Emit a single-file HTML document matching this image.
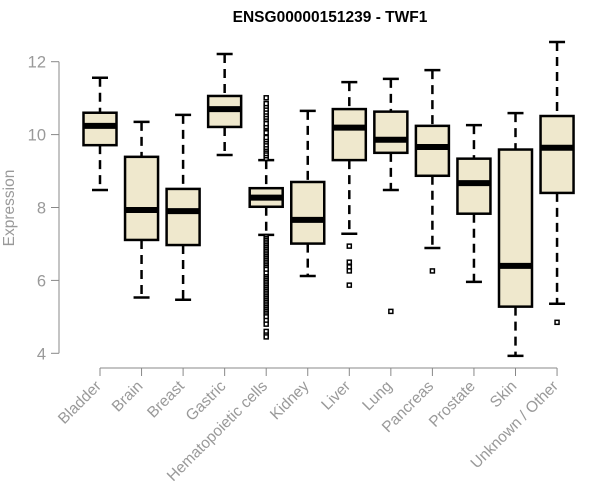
<!DOCTYPE html>
<html><head><meta charset="utf-8"><style>
html,body{margin:0;padding:0;background:#fff;}
svg{display:block;font-family:"Liberation Sans",Arial,sans-serif;}
</style></head><body>
<svg id="chart" width="600" height="500" viewBox="0 0 600 500" xmlns="http://www.w3.org/2000/svg">
<text x="330" y="22" text-anchor="middle" font-size="15.5" font-weight="bold" fill="#000">ENSG00000151239 - TWF1</text>
<text transform="translate(14,208) rotate(-90)" text-anchor="middle" font-size="15.5" fill="#999">Expression</text>
<g id="yaxis"></g>
<g id="xaxis"></g>
<g id="boxes"></g>
</svg>
<script>
const categories = ["Bladder","Brain","Breast","Gastric","Hematopoietic cells","Kidney","Liver","Lung","Pancreas","Prostate","Skin","Unknown / Other"];
const whiskerLow = [8.48,5.53,5.47,9.44,7.25,6.12,7.28,8.48,6.89,5.96,3.93,5.36];
const q1Values   = [9.71,7.11,6.97,10.21,8.02,7.01,9.30,9.50,8.87,7.83,5.28,8.40];
const medians    = [10.24,7.93,7.90,10.70,8.27,7.66,10.19,9.86,9.66,8.67,6.40,9.64];
const q3Values   = [10.60,9.39,8.51,11.06,8.53,8.70,10.70,10.63,10.24,9.34,9.59,10.51];
const whiskerHigh= [11.56,10.35,10.54,12.21,9.30,10.65,11.44,11.53,11.77,10.26,10.59,12.54];
const outliers = [[],[],[],[],
 [9.35,9.42,9.48,9.55,9.6,9.65,9.72,9.8,9.86,9.92,10.05,10.18,10.22,10.3,10.42,10.48,10.55,10.62,10.7,10.78,10.85,11.01,
  7.2,7.15,7.1,7.05,7.0,6.95,6.9,6.85,6.8,6.75,6.7,6.65,6.6,6.55,6.5,6.45,6.4,6.35,6.3,6.2,6.1,6.05,6.0,5.95,5.9,5.85,5.8,5.75,5.7,5.65,5.6,5.55,5.5,5.45,5.4,5.35,5.3,5.25,5.2,5.15,5.1,5.05,5.0,4.9,4.8,4.6,4.5,4.45],
 [],[6.94,6.5,6.37,6.26,5.87],[5.15],[6.26],[],[],[4.85]];
const yTicks = [4,6,8,10,12];

const NS="http://www.w3.org/2000/svg";
const y0=61.7, yUnit=36.45;
function yScale(v){return y0+(12-v)*yUnit;}
function xScale(i){return 100+i*41.55;}
function mk(tag,attrs,parent){const e=document.createElementNS(NS,tag);for(const k in attrs)e.setAttribute(k,attrs[k]);parent.appendChild(e);return e;}
const ya=document.getElementById('yaxis'), xa=document.getElementById('xaxis'), bx=document.getElementById('boxes');
let l=mk('line',{x1:59,x2:59,y1:yScale(12),y2:yScale(4),stroke:'#888','stroke-width':1},ya);


yTicks.forEach(t=>{
 const tk=mk('line',{x1:51,x2:59,y1:yScale(t),y2:yScale(t),stroke:'#888'},ya);
 
 
 const tx=mk('text',{x:46,y:yScale(t)+6,'text-anchor':'end','font-size':16.5,fill:'#999'},ya);
 
 
 tx.textContent=t;
});
const ay=368;
l=mk('line',{x1:xScale(0),x2:xScale(categories.length-1),y1:ay,y2:ay,stroke:'#888'},xa);


categories.forEach((c,i)=>{
 const x=xScale(i);
 const tk=mk('line',{x1:x,x2:x,y1:ay,y2:ay+8,stroke:'#888'},xa);
 
 
 const tx=mk('text',{transform:`translate(${x+2},${ay+19}) rotate(-45)`,'text-anchor':'end','font-size':15.5,fill:'#999'},xa);
 
 
 tx.textContent=c;
});
const hw=16.5;
categories.forEach((c,i)=>{
 const x=xScale(i);
 const g=mk('g',{},bx);
 
 
 mk('line',{x1:x,x2:x,y1:yScale(whiskerHigh[i]),y2:yScale(q3Values[i]),stroke:'#000','stroke-width':2.5,'stroke-dasharray':'9,6'},g);
 mk('line',{x1:x,x2:x,y1:yScale(q1Values[i]),y2:yScale(whiskerLow[i]),stroke:'#000','stroke-width':2.5,'stroke-dasharray':'9,6'},g);
 mk('line',{x1:x-8,x2:x+8,y1:yScale(whiskerHigh[i]),y2:yScale(whiskerHigh[i]),stroke:'#000','stroke-width':2.5},g);
 mk('line',{x1:x-8,x2:x+8,y1:yScale(whiskerLow[i]),y2:yScale(whiskerLow[i]),stroke:'#000','stroke-width':2.5},g);
 mk('rect',{x:x-hw,y:yScale(q3Values[i]),width:hw*2,height:yScale(q1Values[i])-yScale(q3Values[i]),fill:'#efe8cd',stroke:'#000','stroke-width':2.5},g);
 mk('line',{x1:x-hw,x2:x+hw,y1:yScale(medians[i]),y2:yScale(medians[i]),stroke:'#000','stroke-width':6},g);
 outliers[i].forEach(v=>{
  const p=mk('rect',{x:x-2,y:yScale(v)-2,width:4,height:4,fill:'#fff',stroke:'#000','stroke-width':1.5},g);
  
  
 });
});
</script>
</body></html>
